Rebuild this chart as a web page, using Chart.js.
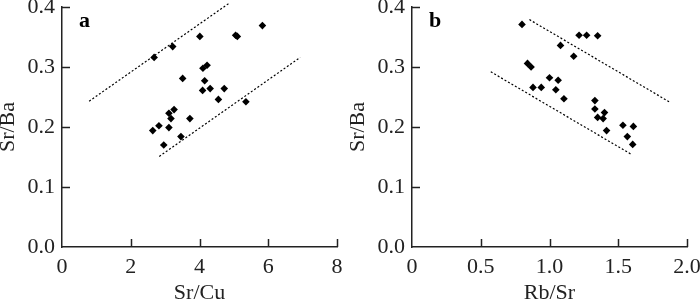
<!DOCTYPE html>
<html>
<head>
<meta charset="utf-8">
<script src="https://cdn.jsdelivr.net/npm/chart.js@4"></script>
<style>
  body { margin: 0; background: #fff; }
  .panel { position: absolute; top: 0; width: 350px; height: 300px; }
</style>
</head>
<body>
<div class="panel" style="left:0"><canvas id="chartA" width="350" height="300"></canvas></div>
<div class="panel" style="left:350px"><canvas id="chartB" width="350" height="300"></canvas></div>
<script>
// panel a: Sr/Cu vs Sr/Ba
const srCu = [2.68, 3.22, 4.01, 5.05, 5.1, 5.83, 3.51, 4.10, 4.22, 4.15, 4.09, 4.31,
  4.72, 4.55, 5.35, 3.26, 3.11, 3.17, 3.72, 2.82, 2.64, 3.11, 3.46, 2.96];
const srBaA = [0.316, 0.334, 0.351, 0.353, 0.351, 0.369, 0.281, 0.298, 0.303, 0.277, 0.261, 0.264,
  0.264, 0.246, 0.242, 0.229, 0.223, 0.214, 0.214, 0.202, 0.194, 0.199, 0.184, 0.170];
const upperA = [[0.79, 0.243], [4.88, 0.407]];
const lowerA = [[2.83, 0.151], [6.93, 0.316]];

// panel b: Rb/Sr vs Sr/Ba
const rbSr = [0.80, 1.08, 1.215, 1.27, 1.35, 1.176, 0.84, 0.866, 0.88, 0.94, 1.00, 1.063,
  1.046, 1.105, 1.33, 1.33, 1.40, 1.35, 1.39, 1.415, 1.534, 1.61, 1.566, 1.605];
const srBaB = [0.371, 0.336, 0.353, 0.353, 0.352, 0.318, 0.306, 0.300, 0.266, 0.266, 0.282, 0.278,
  0.262, 0.247, 0.244, 0.230, 0.224, 0.216, 0.214, 0.194, 0.203, 0.201, 0.184, 0.171];
const upperB = [[0.854, 0.379], [1.878, 0.241]];
const lowerB = [[0.573, 0.292], [1.598, 0.154]];

const yTicks = [0, 0.1, 0.2, 0.3, 0.4];

const FONT = "'Liberation Serif', 'Times New Roman', serif";
const INK = '#222';

// tick marks point inwards, so draw them by hand
const innerTicks = {
  id: 'innerTicks',
  afterDraw(chart) {
    const { ctx, scales: { x, y } } = chart;
    ctx.save();
    ctx.strokeStyle = INK;
    ctx.lineWidth = 1.5;
    x.ticks.forEach(t => {
      if (t.value === 0) return;
      const px = Math.round(x.getPixelForValue(t.value)) + 0.5;
      ctx.beginPath();
      ctx.moveTo(px, y.bottom);
      ctx.lineTo(px, y.bottom - 8);
      ctx.stroke();
    });
    y.ticks.forEach(t => {
      if (t.value === 0) return;
      const py = Math.round(y.getPixelForValue(t.value)) + 0.5;
      ctx.beginPath();
      ctx.moveTo(x.left, py);
      ctx.lineTo(x.left + 8, py);
      ctx.stroke();
    });
    ctx.fillStyle = '#000';
    ctx.font = 'bold 22px ' + FONT;
    ctx.textBaseline = 'alphabetic';
    ctx.fillText(chart.options.plugins.panelLetter, x.left + 17, y.top + 20);
    ctx.restore();
  }
};

function toPts(xs, ys) {
  return xs.map((v, i) => ({ x: v, y: ys[i] }));
}

function dashed(seg) {
  return {
    type: 'line',
    data: seg.map(p => ({ x: p[0], y: p[1] })),
    borderColor: '#000',
    borderWidth: 1.2,
    borderDash: [2, 2],
    pointRadius: 0,
    clip: false
  };
}

function makeChart(id, xs, ys, up, low, xMax, xStep, xFmt, letter, xTitle) {
  new Chart(document.getElementById(id), {
    type: 'scatter',
    data: {
      datasets: [
        {
          data: toPts(xs, ys),
          pointStyle: 'rectRot',
          pointRadius: 3.8,
          pointHoverRadius: 3.8,
          backgroundColor: '#000',
          borderColor: '#000',
          borderWidth: 0
        },
        dashed(up),
        dashed(low)
      ]
    },
    options: {
      responsive: false,
      animation: false,
      events: [],
      layout: { autoPadding: false, padding: { top: 7, right: 13, left: 0, bottom: 0 } },
      plugins: { legend: { display: false }, tooltip: { enabled: false }, panelLetter: letter },
      scales: {
        x: {
          type: 'linear', min: 0, max: xMax,
          afterFit: s => { s.height = 53; s.paddingLeft = 0; s.paddingRight = 0; },
          grid: { display: false, drawTicks: false },
          border: { display: true, color: INK, width: 1.5 },
          ticks: {
            stepSize: xStep, autoSkip: false, maxRotation: 0, padding: 7,
            color: INK, font: { family: FONT, size: 22 },
            callback: xFmt
          },
          title: { display: true, text: xTitle, color: INK, font: { family: FONT, size: 22, lineHeight: 1 }, padding: { top: 0, bottom: -4 } }
        },
        y: {
          type: 'linear', min: 0, max: 0.4,
          afterFit: s => { s.width = 62; s.paddingTop = 0; s.paddingBottom = 0; },
          afterBuildTicks: s => { s.ticks = yTicks.map(v => ({ value: v })); },
          grid: { display: false, drawTicks: false },
          border: { display: true, color: INK, width: 1.5 },
          ticks: {
            padding: 7, color: INK, font: { family: FONT, size: 22 },
            callback: v => v.toFixed(1)
          },
          title: { display: true, text: 'Sr/Ba', color: INK, font: { family: FONT, size: 22, lineHeight: 1 }, padding: { top: -3, bottom: 0 } }
        }
      }
    },
    plugins: [innerTicks]
  });
}

makeChart('chartA', srCu, srBaA, upperA, lowerA, 8, 2, v => String(v), 'a', 'Sr/Cu');
makeChart('chartB', rbSr, srBaB, upperB, lowerB, 2, 0.5, v => (v === 0 ? '0' : v.toFixed(1)), 'b', 'Rb/Sr');
</script>
</body>
</html>
